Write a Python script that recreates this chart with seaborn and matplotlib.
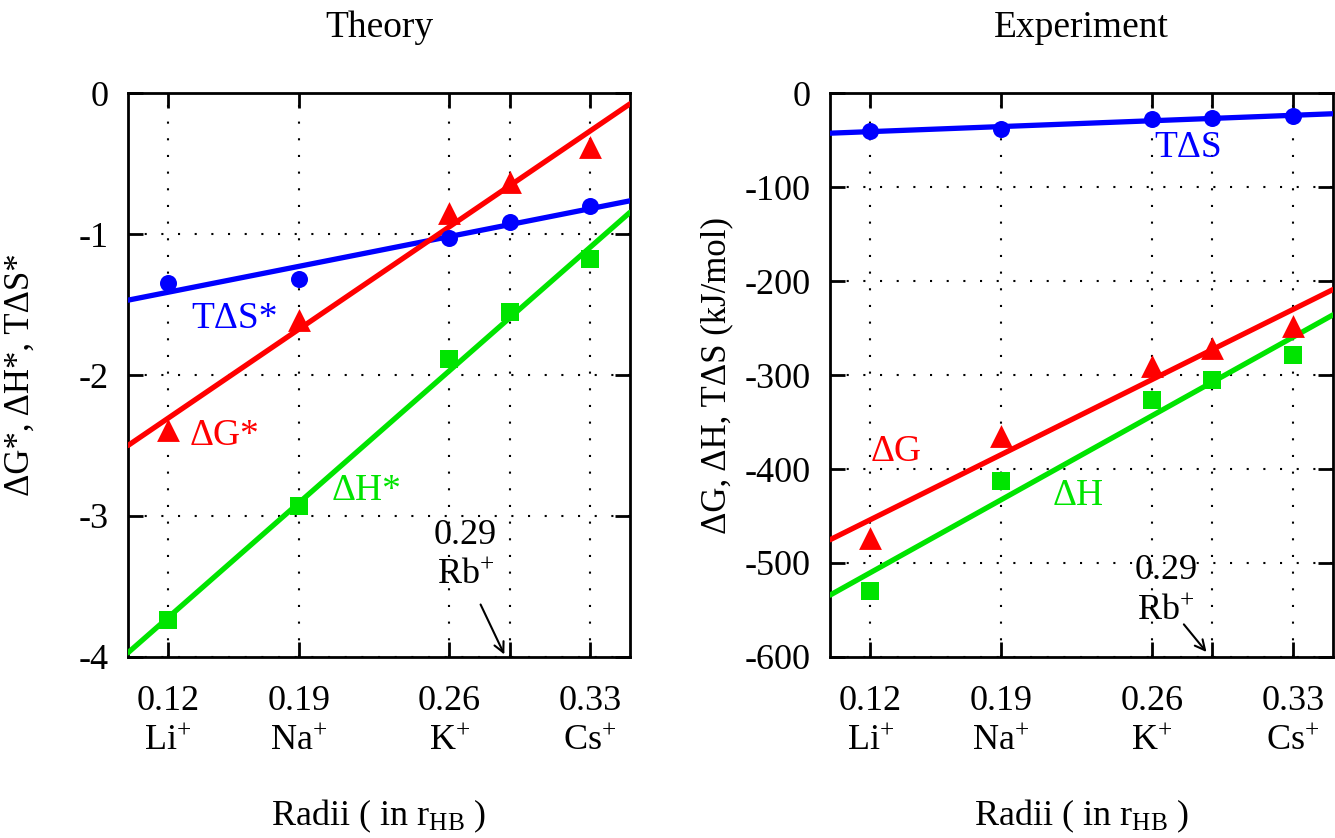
import numpy as np
import matplotlib
matplotlib.use("Agg")
import matplotlib.pyplot as plt
import seaborn as sns

# ---------------- data ----------------
ions = ["Li", "Na", "K", "Rb", "Cs"]
radii = [0.12, 0.185, 0.26, 0.29, 0.33]
x_tick_labels = ["0.12\nLi$^{+}$", "0.19\nNa$^{+}$", "0.26\nK$^{+}$", "", "0.33\nCs$^{+}$"]

theory_TdS = [-1.35, -1.32, -1.03, -0.915, -0.80]
theory_dG = [-2.39, -1.61, -0.85, -0.63, -0.38]
theory_dH = [-3.74, -2.93, -1.89, -1.55, -1.18]

exp_TdS = [-40, -38, -28, -27, -24]
exp_dG = [-473, -365, -290, -271, -248]
exp_dH = [-530, -413, -327, -305, -279]

theory_yticks = [0, -1, -2, -3, -4]
exp_yticks = [0, -100, -200, -300, -400, -500, -600]

# ---------------- style ----------------
sns.set_style("ticks")
plt.rcParams["font.family"] = ["Liberation Serif", "DejaVu Serif"]
plt.rcParams["mathtext.default"] = "regular"
plt.rcParams["axes.unicode_minus"] = False
plt.rcParams["text.color"] = "black"
plt.rcParams["axes.labelcolor"] = "black"
plt.rcParams["xtick.color"] = "black"
plt.rcParams["ytick.color"] = "black"

BLUE = "#0000ff"
RED = "#ff0000"
GREEN = "#00e400"
XLIM = (0.10, 0.35)

fig = plt.figure(figsize=(13.35, 8.38), dpi=100)
ax1 = fig.add_axes([0.0959, 0.216, 0.3760, 0.673])
ax2 = fig.add_axes([0.6217, 0.216, 0.3768, 0.673])


def panel(ax, tds, dg, dh, yticks, title, ylabel, ylabelpad, labels, rb_text, rb_arrow):
    xf = np.array(XLIM)
    for vals, col, mk, size in [(tds, BLUE, "o", 150), (dg, RED, "^", 270), (dh, GREEN, "s", 170)]:
        coef = np.polyfit(radii, vals, 1)
        sns.lineplot(x=xf, y=np.polyval(coef, xf), ax=ax, color=col, lw=3.8, sort=False, zorder=3)
        sns.scatterplot(x=radii, y=vals, ax=ax, marker=mk, s=size, color=col,
                        edgecolor=col, linewidth=0, zorder=4)
    ax.set_xlim(*XLIM)
    ax.set_ylim(min(yticks), max(yticks))
    ax.set_xticks(radii)
    ax.set_xticklabels(x_tick_labels, linespacing=1.3)
    ax.set_yticks(yticks)
    ax.set_yticklabels([f"{v:g}" for v in yticks])
    ax.tick_params(direction="in", length=11, width=2, top=True, right=True,
                   labelsize=26, colors="black")
    ax.tick_params(axis="x", pad=20)
    ax.tick_params(axis="y", pad=14)
    ax.grid(True, linestyle=(0, (1, 7)), color="black", linewidth=1.5)
    for s in ax.spines.values():
        s.set_linewidth(2)
        s.set_color("black")
    ax.set_title(title, fontsize=27, pad=40)
    ax.set_xlabel("Radii ( in r$_{HB}$ )", fontsize=26, labelpad=28)
    ax.set_ylabel(ylabel, fontsize=25, labelpad=ylabelpad)
    for txt, (x, y), col in labels:
        ax.text(x, y, txt, color=col, fontsize=27, ha="center", va="center", zorder=5)
    ax.text(rb_text[0], rb_text[1], "0.29\nRb$^{+}$", fontsize=26, ha="center",
            va="center", linespacing=1.3, zorder=5)
    ax.annotate("", xy=rb_arrow[1], xytext=rb_arrow[0],
                arrowprops=dict(arrowstyle="->", lw=1.5, color="black", mutation_scale=18),
                zorder=5)


panel(ax1, theory_TdS, theory_dG, theory_dH, theory_yticks, "Theory",
      "ΔG*, ΔH*, TΔS*", 30,
      [("TΔS*", (0.153, -1.60), BLUE), ("ΔG*", (0.148, -2.43), RED), ("ΔH*", (0.219, -2.82), GREEN)],
      (0.268, -3.28), ((0.275, -3.61), (0.288, -4.0)))

panel(ax2, exp_TdS, exp_dG, exp_dH, exp_yticks, "Experiment",
      "ΔG, ΔH, TΔS (kJ/mol)", 8,
      [("TΔS", (0.278, -58), BLUE), ("ΔG", (0.133, -382), RED), ("ΔH", (0.2235, -428), GREEN)],
      (0.267, -530), ((0.275, -563), (0.288, -597)))

fig.savefig("out.png", dpi=100)
